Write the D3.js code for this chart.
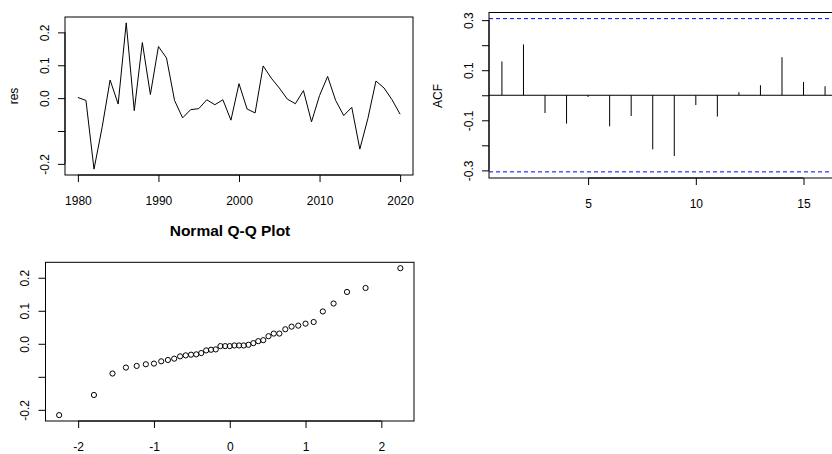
<!DOCTYPE html>
<html>
<head>
<meta charset="utf-8">
<script src="https://cdn.jsdelivr.net/npm/d3@7"></script>
<style>
  html, body { margin: 0; padding: 0; background: #fff; }
  svg { display: block; font-family: "Liberation Sans", Arial, sans-serif; }
</style>
</head>
<body>
<svg id="chart" width="832" height="454"></svg>
<script>
// ---------- data ----------
const years = [1980,1981,1982,1983,1984,1985,1986,1987,1988,1989,
               1990,1991,1992,1993,1994,1995,1996,1997,1998,1999,
               2000,2001,2002,2003,2004,2005,2006,2007,2008,2009,
               2010,2011,2012,2013,2014,2015,2016,2017,2018,2019,2020];
const res = [0.002,-0.007,-0.216,-0.090,0.055,-0.018,0.229,-0.038,0.169,0.011,
             0.157,0.122,-0.007,-0.060,-0.035,-0.032,-0.005,-0.020,-0.005,-0.067,
             0.044,-0.033,-0.045,0.098,0.061,0.031,-0.003,-0.017,0.023,-0.072,
             0.008,0.066,-0.007,-0.053,-0.028,-0.155,-0.062,0.052,0.031,-0.005,-0.049];

const lags = [1,2,3,4,5,6,7,8,9,10,11,12,13,14,15,16];
const acfValues = [0.135,0.203,-0.071,-0.113,-0.007,-0.124,-0.083,-0.216,-0.243,-0.039,
                   -0.085,0.012,0.040,0.152,0.053,0.036];
const acfCI = 0.306;

// theoretical normal quantiles for 41 points (ppoints)
const theoQ = [-2.251,-1.792,-1.547,-1.370,-1.228,-1.107,-1.000,-0.904,-0.816,-0.733,
               -0.655,-0.581,-0.511,-0.442,-0.376,-0.311,-0.247,-0.185,-0.123,-0.061,
               0,
               0.061,0.123,0.185,0.247,0.311,0.376,0.442,0.511,0.581,0.655,
               0.733,0.816,0.904,1.000,1.107,1.228,1.370,1.547,1.792,2.251];

const tsXTicks = [1980,1990,2000,2010,2020];
const tsYTicks = [-0.2,-0.1,0,0.1,0.2];
const tsYLabels = ["-0.2","","0.0","0.1","0.2"];
const acfXTicks = [5,10,15];
const acfYTicks = [-0.3,-0.2,-0.1,0,0.1,0.2,0.3];
const acfYLabels = ["-0.3","","-0.1","","0.1","","0.3"];
const qqXTicks = [-2,-1,0,1,2];
const qqXLabels = ["-2","-1","0","1","2"];
const qqYTicks = [-0.2,-0.1,0,0.1,0.2];
const qqYLabels = ["-0.2","","0.0","0.1","0.2"];

// ---------- helpers ----------
const svg = d3.select("#chart");
svg.append("rect").attr("width",832).attr("height",454).attr("fill","#fff");
const FS = 12;

function padded(ext){ const d=(ext[1]-ext[0])*0.04; return [ext[0]-d, ext[1]+d]; }

function drawBox(g, x0, x1, y0, y1){
  g.append("rect").attr("x",x0).attr("y",y1).attr("width",x1-x0).attr("height",y0-y1)
   .attr("fill","none").attr("stroke","#000").attr("stroke-width",1);
}
function bottomAxis(g, scale, ticks, labels, yPos){
  const ax = g.append("g").attr("transform",`translate(0,${yPos})`)
    .call(d3.axisBottom(scale).tickValues(ticks).tickSize(7).tickFormat((d,i)=>labels[i]));
  ax.select(".domain").remove();
  ax.selectAll("line").attr("stroke","#000");
  ax.selectAll("text").attr("y",29.5).attr("dy",0).attr("fill","#000")
    .attr("font-size",FS).attr("font-family",null);
  // axis line between first and last tick
  g.append("line").attr("x1",scale(ticks[0])).attr("x2",scale(ticks[ticks.length-1]))
    .attr("y1",yPos).attr("y2",yPos).attr("stroke","#000");
}
function leftAxis(g, scale, ticks, labels, xPos){
  const ax = g.append("g").attr("transform",`translate(${xPos},0)`)
    .call(d3.axisLeft(scale).tickValues(ticks).tickSize(7).tickFormat((d,i)=>labels[i]));
  ax.select(".domain").remove();
  ax.selectAll("line").attr("stroke","#000");
  ax.selectAll("text").attr("transform","rotate(-90)").attr("x",0).attr("y",-16.5)
    .attr("dy",0).attr("text-anchor","middle").attr("fill","#000")
    .attr("font-size",FS).attr("font-family",null);
  g.append("line").attr("y1",scale(ticks[0])).attr("y2",scale(ticks[ticks.length-1]))
    .attr("x1",xPos).attr("x2",xPos).attr("stroke","#000");
}

// ---------- Panel 1: time series ----------
{
  const g = svg.append("g");
  const x = d3.scaleLinear().domain(padded(d3.extent(years))).range([65,413]);
  const y = d3.scaleLinear().domain(padded(d3.extent(res))).range([175,17]);
  const line = d3.line().x((d,i)=>x(years[i])).y(d=>y(d));
  g.append("path").datum(res).attr("d",line).attr("fill","none")
    .attr("stroke","#000").attr("stroke-width",1).attr("stroke-linejoin","round");
  drawBox(g,65,413,175,17);
  bottomAxis(g,x,tsXTicks,tsXTicks.map(String),175);
  leftAxis(g,y,tsYTicks,tsYLabels,65);
  g.append("text").attr("transform",`translate(18.3,96) rotate(-90)`)
    .attr("text-anchor","middle").attr("font-size",FS).attr("fill","#000").text("res");
}

// ---------- Panel 2: ACF ----------
{
  const g = svg.append("g");
  const x = d3.scaleLinear().domain([0.4,16.6]).range([489,838]);
  const y = d3.scaleLinear().domain([-0.3305,0.3305]).range([178,12.5]);
  g.selectAll("line.spike").data(acfValues).join("line").attr("class","spike")
    .attr("x1",(d,i)=>x(lags[i])).attr("x2",(d,i)=>x(lags[i]))
    .attr("y1",y(0)).attr("y2",d=>y(d)).attr("stroke","#000").attr("stroke-width",1);
  g.append("line").attr("x1",x.range()[0]).attr("x2",x.range()[1])
    .attr("y1",y(0)).attr("y2",y(0)).attr("stroke","#000");
  [acfCI,-acfCI].forEach(c=>{
    g.append("line").attr("x1",x.range()[0]).attr("x2",x.range()[1])
      .attr("y1",y(c)).attr("y2",y(c)).attr("stroke","#0000ff")
      .attr("stroke-dasharray","4,3");
  });
  drawBox(g,489,838,178,12.5);
  bottomAxis(g,x,acfXTicks,acfXTicks.map(String),178);
  leftAxis(g,y,acfYTicks,acfYLabels,489);
  g.append("text").attr("transform",`translate(441.7,96) rotate(-90)`)
    .attr("text-anchor","middle").attr("font-size",FS).attr("fill","#000").text("ACF");
}

// ---------- Panel 3: Normal Q-Q ----------
{
  const g = svg.append("g");
  const sample = d3.sort(res);
  const x = d3.scaleLinear().domain(padded(d3.extent(theoQ))).range([45.5,414]);
  const y = d3.scaleLinear().domain(padded(d3.extent(sample))).range([421,262.3]);
  g.selectAll("circle").data(sample).join("circle")
    .attr("cx",(d,i)=>x(theoQ[i])).attr("cy",d=>y(d)).attr("r",2.6)
    .attr("fill","none").attr("stroke","#000").attr("stroke-width",1);
  drawBox(g,45.5,414,421,262.3);
  bottomAxis(g,x,qqXTicks,qqXLabels,421);
  leftAxis(g,y,qqYTicks,qqYLabels,45.5);
  g.append("text").attr("x",230).attr("y",235.5).attr("text-anchor","middle")
    .attr("font-size",15.5).attr("font-weight","bold").attr("fill","#000")
    .text("Normal Q-Q Plot");
}
</script>
</body>
</html>
